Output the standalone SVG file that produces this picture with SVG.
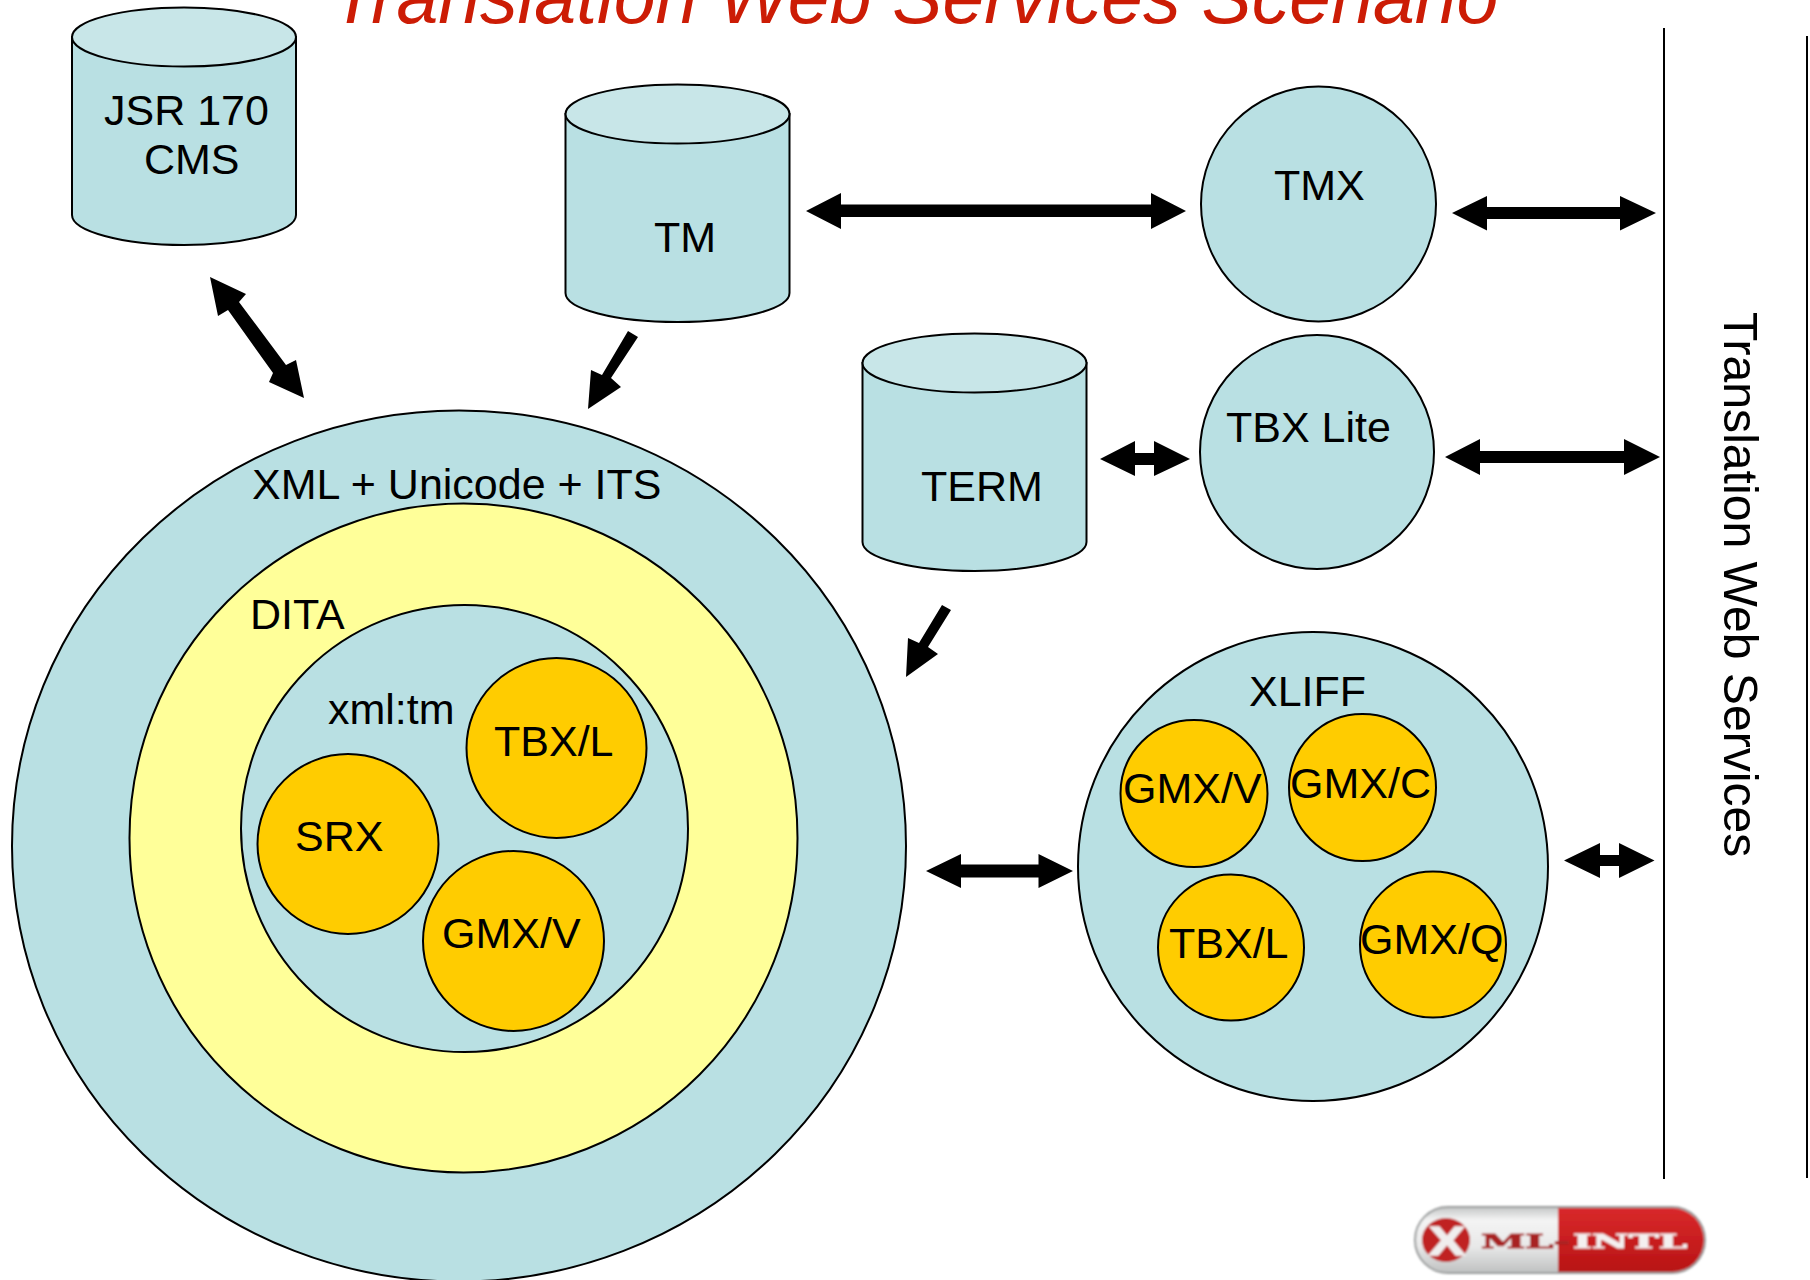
<svg xmlns="http://www.w3.org/2000/svg" width="1810" height="1280" viewBox="0 0 1810 1280">
<style>
text{font-family:"Liberation Sans",Arial,sans-serif;font-size:43px;fill:#000}
.b{fill:#b9e0e3;stroke:#000;stroke-width:2}
.t{fill:#c8e6e8;stroke:#000;stroke-width:2}
.y{fill:#ffff99;stroke:#000;stroke-width:2}
.o{fill:#ffcc00;stroke:#000;stroke-width:2}
.a{fill:#000}
.r{stroke:#000;stroke-width:2;fill:none}
</style>
<defs>
<filter id="soft" x="-5%" y="-10%" width="110%" height="120%"><feGaussianBlur stdDeviation="0.8"/></filter>
<linearGradient id="pill" x1="0" y1="0" x2="0" y2="1"><stop offset="0" stop-color="#c4c6c6"/><stop offset="0.2" stop-color="#f4f4f4"/><stop offset="0.6" stop-color="#e8e8e8"/><stop offset="1" stop-color="#bfc1c1"/></linearGradient>
<linearGradient id="redp" x1="0" y1="0" x2="0" y2="1"><stop offset="0" stop-color="#d9292b"/><stop offset="1" stop-color="#b81414"/></linearGradient>
</defs>
<rect width="1810" height="1280" fill="#fff"/>
<text id="title" x="331" y="23" style="font-size:75.200px;font-style:italic;fill:#cc1c05">Translation Web Services Scenario</text>
<g id="cms"><path class="b" d="M72 37V215C72 231 122 245 184 245S296 231 296 215V37Z"/><ellipse class="t" cx="184" cy="37" rx="112" ry="29.500"/><text x="104" y="125">JSR 170</text><text x="144" y="174">CMS</text></g>
<g id="tm"><path class="b" d="M565.500 114V293C565.500 309 615 322 677.500 322S789.500 309 789.500 293V114Z"/><ellipse class="t" cx="677.500" cy="114" rx="112" ry="29.500"/><text x="654" y="252">TM</text></g>
<g id="term"><path class="b" d="M862.500 363V542C862.500 558 913 571 974.500 571S1086.500 558 1086.500 542V363Z"/><ellipse class="t" cx="974.500" cy="363" rx="112" ry="29.500"/><text x="921" y="501">TERM</text></g>
<g id="tmx"><ellipse class="b" cx="1318.500" cy="204" rx="117.500" ry="117.500"/><text x="1274" y="200">TMX</text></g>
<g id="tbxlite"><ellipse class="b" cx="1317" cy="452" rx="117" ry="117"/><text x="1226" y="442">TBX Lite</text></g>
<g id="xml"><ellipse class="b" cx="459" cy="846" rx="447" ry="435.500"/><text x="252" y="499">XML + Unicode + ITS</text></g>
<g id="dita"><ellipse class="y" cx="463.500" cy="838" rx="334" ry="334.500"/><text x="250" y="629">DITA</text></g>
<g id="xmltm"><ellipse class="b" cx="464.500" cy="828.500" rx="223.500" ry="223.500"/><text x="328" y="724">xml:tm</text></g>
<g id="tbxl1"><ellipse class="o" cx="556.500" cy="748" rx="90" ry="90"/><text x="494" y="756">TBX/L</text></g>
<g id="srx"><ellipse class="o" cx="348" cy="844" rx="90.500" ry="90"/><text x="295" y="851">SRX</text></g>
<g id="gmxv1"><ellipse class="o" cx="513.500" cy="941" rx="90.500" ry="90"/><text x="442" y="948">GMX/V</text></g>
<g id="xliff"><ellipse class="b" cx="1313" cy="866.500" rx="235" ry="234.500"/><text x="1249" y="706">XLIFF</text></g>
<g id="gmxv2"><ellipse class="o" cx="1194" cy="793.500" rx="73.500" ry="73.500"/><text x="1123" y="803">GMX/V</text></g>
<g id="gmxc"><ellipse class="o" cx="1362.500" cy="787.500" rx="73.500" ry="73.500"/><text x="1290" y="798">GMX/C</text></g>
<g id="tbxl2"><ellipse class="o" cx="1231" cy="947.500" rx="73" ry="73"/><text x="1169" y="958">TBX/L</text></g>
<g id="gmxq"><ellipse class="o" cx="1433" cy="944.500" rx="73" ry="73"/><text x="1360" y="954">GMX/Q</text></g>
<g id="tws"><path class="r" d="M1664 28V1179"/><path class="r" d="M1807 36V1178"/><text transform="translate(1724 312) rotate(90)" style="font-size:48.100px">Translation Web Services</text></g>
<g id="connectors">
<polygon class="a" points="806,211 841,193 841,204.500 1151,204.500 1151,193 1186,211 1151,229 1151,217 841,217 841,229"/>
<polygon class="a" points="1452,213 1487,196 1487,207 1620,207 1620,196 1656,213 1620,230.500 1620,219 1487,219 1487,230.500"/>
<polygon class="a" points="1445,457 1480,439 1480,451 1624,451 1624,439 1660,457 1624,475 1624,463 1480,463 1480,475"/>
<polygon class="a" points="1100,459 1135,441 1135,453 1154,453 1154,441 1190,459 1154,476 1154,465 1135,465 1135,476"/>
<polygon class="a" points="926,871 961,854 961,864.500 1038.500,864.500 1038.500,854 1073,871 1038.500,888 1038.500,877.500 961,877.500 961,888"/>
<polygon class="a" points="1564,860.500 1600,843 1600,855 1619,855 1619,843 1654.500,860.500 1619,878 1619,866 1600,866 1600,878"/>
<polygon class="a" points="210,277 246,294 239,302 286,365 296,360 304,398 269,382 273,373 228,310 218,316"/>
<polygon class="a" points="628,331 638,337 611,378 621,387 588,409 591,370 602,375"/>
<polygon class="a" points="942,605 951,610 928,647 938,654 906,677 908,638 919,643"/>
</g>
<g id="logo" filter="url(#soft)">
<rect x="1415" y="1207" width="290" height="66" rx="33" fill="url(#pill)" stroke="#9a9c9c" stroke-width="2"/>
<path d="M1558 1208H1672A32 32 0 0 1 1672 1272H1558Z" fill="url(#redp)"/>
<ellipse cx="1446" cy="1240" rx="24" ry="22" fill="#c02020"/>
<text x="1429" y="1255" style="font-size:40px;font-weight:bold;fill:#f0eeee;stroke:#f0eeee;stroke-width:1.500" textLength="36" lengthAdjust="spacingAndGlyphs">X</text>
<text x="1481" y="1248" style="font-family:'DejaVu Serif',serif;font-size:19px;font-weight:bold;fill:#a82222;stroke:#a82222;stroke-width:0.800" textLength="89" lengthAdjust="spacingAndGlyphs">ML-</text>
<text x="1573" y="1248" style="font-family:'DejaVu Serif',serif;font-size:19px;font-weight:bold;fill:#f4f0f0;stroke:#f4f0f0;stroke-width:0.800" textLength="114" lengthAdjust="spacingAndGlyphs">INTL</text>
</g>
</svg>
